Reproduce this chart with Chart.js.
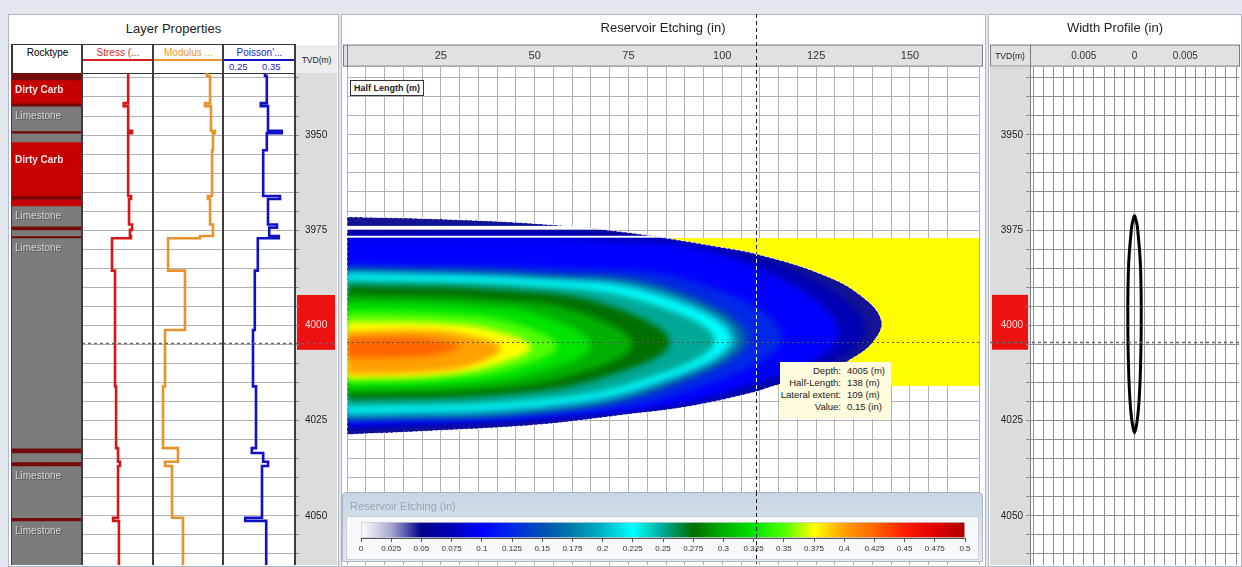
<!DOCTYPE html>
<html>
<head>
<meta charset="utf-8">
<title>Reservoir Etching</title>
<script src="https://cdn.jsdelivr.net/npm/chart.js@4.4.0/dist/chart.umd.min.js"></script>
<style>
  html, body { margin: 0; padding: 0; }
  body { width: 1242px; height: 567px; position: relative; overflow: hidden; background: #e3e7ed; font-family: "Liberation Sans", Arial, sans-serif; }
  .panel { position: absolute; background: #fff; border: 1px solid #aeb8c5; box-sizing: border-box; }
  .txt { position: absolute; white-space: nowrap; }
  .hcell { position: absolute; box-sizing: border-box; border: 1px solid #333; background: #fff; font-size: 10px; text-align: center; overflow: hidden; }
  .sep { position: absolute; width: 2px; background: #3c3c3c; }
  canvas { position: absolute; }
  .tip td { padding: 0; height: 12px; }
</style>
</head>
<body>

<!-- left panel -->
<div class="panel" style="left:8px;top:14px;width:331px;height:553px"></div>
<div class="txt" style="left:8px;top:21px;width:331px;text-align:center;font-size:13px;color:#222">Layer Properties</div>
<div class="hcell" style="left:12px;top:44px;width:71px;height:30px"><div style="margin-top:2px">Rocktype</div></div>
<div class="hcell" style="left:82px;top:44px;width:72px;height:30px;color:#d42a2a"><div style="margin-top:2px">Stress (...</div><div style="position:absolute;left:0;right:0;top:14px;height:2px;background:#d42020"></div></div>
<div class="hcell" style="left:153px;top:44px;width:71px;height:30px;color:#e8962e"><div style="margin-top:2px">Modulus ...</div><div style="position:absolute;left:0;right:0;top:14px;height:2px;background:#e8962e"></div></div>
<div class="hcell" style="left:223px;top:44px;width:73px;height:30px;color:#1c1cc8"><div style="margin-top:2px">Poisson'...</div><div style="position:absolute;left:0;right:0;top:14px;height:2px;background:#1414c0"></div></div>
<div class="txt" style="left:229px;top:61px;font-size:9.5px;color:#1c1cc8">0.25</div>
<div class="txt" style="left:262px;top:61px;font-size:9.5px;color:#1c1cc8">0.35</div>
<div class="txt" style="left:296px;top:45px;width:41px;height:28px;background:#ececec"></div>
<div class="txt" style="left:296px;top:55px;width:41px;text-align:center;font-size:8.5px;color:#222">TVD(m)</div>

<canvas id="rockChart" width="70" height="492" style="left:12px;top:73px"></canvas>
<canvas id="stressChart" width="71" height="492" style="left:82px;top:73px"></canvas>
<canvas id="modulusChart" width="70" height="492" style="left:153px;top:73px"></canvas>
<canvas id="poissonChart" width="114" height="492" style="left:223px;top:73px"></canvas>
<div class="sep" style="left:11px;top:44px;height:521px;width:1px"></div>
<div class="sep" style="left:81px;top:44px;height:521px"></div>
<div class="sep" style="left:152px;top:44px;height:521px"></div>
<div class="sep" style="left:222px;top:44px;height:521px"></div>
<div class="sep" style="left:294px;top:44px;height:521px"></div>

<!-- middle panel -->
<div class="panel" style="left:341px;top:14px;width:645px;height:553px"></div>
<canvas id="etchChart" width="640" height="551" style="left:343px;top:14px"></canvas>
<div class="txt" style="left:350px;top:80px;border:1px solid #333;background:#fff;font-size:9px;font-weight:bold;padding:2px 3px;color:#222">Half Length (m)</div>
<div class="txt" style="left:780px;top:362px;width:111px;height:57px;background:#fffbdc">
  <table class="tip" style="border-collapse:collapse;font-size:9.5px;color:#222;margin:2px 6px 0 auto">
    <tr><td style="text-align:right">Depth:</td><td style="padding-left:6px">4005 (m)</td></tr>
    <tr><td style="text-align:right">Half-Length:</td><td style="padding-left:6px">138 (m)</td></tr>
    <tr><td style="text-align:right">Lateral extent:</td><td style="padding-left:6px">109 (m)</td></tr>
    <tr><td style="text-align:right">Value:</td><td style="padding-left:6px">0.15 (in)</td></tr>
  </table>
</div>
<div class="txt" style="left:342px;top:492px;width:641px;height:70px;box-sizing:border-box;border:1px solid #a9b5c6;border-radius:4px 4px 0 0;background:linear-gradient(#c9d5e4,#e3e9f1)"></div>
<div class="txt" style="left:350px;top:500px;font-size:11px;color:#9aa4b2">Reservoir Etching (in)</div>
<div class="txt" style="left:346px;top:516px;width:633px;height:44px;box-sizing:border-box;border:1px solid #c6cfda;background:#f6f8fa"></div>
<canvas id="barChart" width="641" height="70" style="left:342px;top:492px"></canvas>

<!-- right panel -->
<div class="panel" style="left:988px;top:14px;width:254px;height:553px"></div>
<canvas id="widthChart" width="250" height="551" style="left:990px;top:14px"></canvas>
<div class="txt" style="left:990px;top:51px;width:40px;text-align:center;font-size:8.5px;color:#222">TVD(m)</div>

<script>
// ---------- values ----------
const DEPTH_BOTTOM = 4062.9;
const LOG_TOP = 3933.7;    // first depth under the log headers
const PLOT_TOP = 3932.1;   // first depth under the etching / width headers
const HL_MAX = 168.4;
const WIDTH_MAX = 0.0103;
const cursorDepth = 4004.5;
const cursorHalfLength = 109;
const perfTop = 3992.0, perfBottom = 4006.4;
const zoneTop = 3977.1, zoneBottom = 4015.9;

// rock column
const rockTops  = [3933.7, 3935.5, 3941.6, 3942.4, 3948.9, 3949.5, 3951.8, 3954.1, 3966.0, 3966.8, 3968.6,
                   3973.9, 3974.9, 3976.5, 3977.0, 4032.2, 4033.5, 4035.8, 4036.9, 4050.5, 4051.3];
const rockTypes = ['Shale', 'Dirty Carb', 'Shale', 'Limestone', 'Shale', 'Limestone', 'Dirty Carb', 'Dirty Carb', 'Shale', 'Dirty Carb', 'Limestone',
                   'Shale', 'Limestone', 'Shale', 'Limestone', 'Shale', 'Limestone', 'Shale', 'Limestone', 'Shale', 'Limestone'];
const rockColors = { 'Shale': '#730909', 'Dirty Carb': '#c60000', 'Limestone': '#7c7c7c' };

// logs (value from each top depth down to the next)
const stressTops   = [3933.7, 3941.6, 3942.4, 3948.9, 3949.5, 3966.0, 3966.8, 3973.5, 3974.9, 3976.5, 3977.1, 3985.6, 4016.0, 4032.2, 4035.8, 4036.9, 4050.5, 4051.3];
const stressValues = [76.0, 73.5, 76.0, 78.2, 76.0, 77.6, 76.5, 78.2, 77.0, 77.6, 66.9, 68.6, 69.2, 70.3, 71.4, 70.3, 67.5, 70.8];
const modulusTops   = [3933.7, 3934.5, 3941.6, 3942.4, 3948.9, 3949.5, 3954.0, 3966.0, 3966.8, 3973.5, 3976.5, 3977.1, 3985.6, 4001.2, 4016.0, 4032.2, 4035.8, 4036.9, 4050.5];
const modulusValues = [56.3, 58.9, 54.6, 59.7, 63.1, 61.4, 60.6, 57.1, 58.9, 61.4, 50.3, 22.9, 37.4, 20.3, 18.6, 31.4, 20.3, 26.3, 35.7];
const poissonTops   = [3933.7, 3934.5, 3941.6, 3942.4, 3948.9, 3949.5, 3954.0, 3966.0, 3966.8, 3973.5, 3974.3, 3976.5, 3977.1, 3985.6, 4001.2, 4016.0, 4032.2, 4033.5, 4035.8, 4036.9, 4050.5, 4051.3];
const poissonValues = [0.310, 0.313, 0.303, 0.315, 0.338, 0.313, 0.307, 0.335, 0.315, 0.330, 0.317, 0.333, 0.298, 0.293, 0.290, 0.295, 0.288, 0.307, 0.315, 0.305, 0.277, 0.312];

// etched envelope (half-length m, depth m)
const envHL    = [0, 25, 52, 73, 99, 110, 125.5, 136, 142.4, 140, 134, 125.5, 115, 108, 90.5, 73, 52, 25, 0];
const envDepth = [3971.5, 3972.1, 3973.4, 3975.4, 3979.4, 3981.5, 3986.2, 3991.5, 3998.6, 4004.6, 4009.1, 4013.5, 4015.6, 4017.7, 4021.4, 4023.6, 4026.0, 4027.6, 4028.7];

// etching contours, innermost first
const contourLevels = [0.425, 0.4, 0.375, 0.35, 0.325, 0.3, 0.275, 0.25, 0.225, 0.2, 0.175, 0.15, 0.125, 0.1, 0.075];
const contourHL = [
  [0, 15, 24, 30, 24, 15, 0],
  [0, 20.5, 32.8, 41, 32.8, 20.5, 0],
  [0, 24.5, 39.2, 49, 39.2, 24.5, 0],
  [0, 28, 44.8, 56, 44.8, 28, 0],
  [0, 32.5, 52, 65, 52, 32.5, 0],
  [0, 38, 60.8, 76, 60.8, 38, 0],
  [0, 43, 68.8, 86, 68.8, 43, 0],
  [0, 49, 78.4, 98, 78.4, 49, 0],
  [0, 51, 81.6, 102, 81.6, 51, 0],
  [0, 51.8, 82.8, 103.5, 82.8, 51.8, 0],
  [0, 52.5, 84, 105, 84, 52.5, 0],
  [0, 53.5, 85.6, 107, 85.6, 53.5, 0],
  [0, 58, 92.8, 116, 92.8, 58, 0],
  [0, 65.5, 104.8, 131, 104.8, 65.5, 0],
  [0, 69, 110.4, 138, 110.4, 69, 0]
];
const contourDepth = [
  [4003.3, 4003.1, 4003.9, 4005.5, 4007.5, 4008.3, 4008.5],
  [4001.7, 4001.3, 4002.8, 4006.0, 4010.5, 4012.3, 4013.0],
  [3999.0, 3999.4, 4001.3, 4005.8, 4010.5, 4013.1, 4014.0],
  [3996.5, 3997.2, 3999.5, 4005.5, 4011.2, 4014.0, 4015.0],
  [3994.0, 3994.9, 3997.5, 4005.3, 4012.0, 4015.4, 4016.5],
  [3992.0, 3993.2, 3996.2, 4005.0, 4012.8, 4016.7, 4018.0],
  [3989.5, 3990.8, 3994.5, 4004.5, 4013.5, 4018.0, 4019.5],
  [3988.0, 3989.5, 3993.5, 4004.0, 4014.5, 4019.8, 4021.5],
  [3986.6, 3988.2, 3992.0, 4003.6, 4015.0, 4020.9, 4022.8],
  [3986.2, 3987.8, 3991.3, 4003.6, 4015.4, 4021.8, 4023.8],
  [3985.6, 3987.2, 3990.6, 4003.5, 4015.8, 4022.3, 4024.3],
  [3985.0, 3986.5, 3990.0, 4003.5, 4016.2, 4022.8, 4024.8],
  [3984.0, 3985.0, 3988.5, 4003.0, 4016.8, 4023.3, 4025.5],
  [3977.0, 3977.6, 3983.0, 4002.0, 4016.3, 4023.4, 4026.5],
  [3974.9, 3975.7, 3982.0, 4001.0, 4016.5, 4023.2, 4027.5]
];

// colour scale of the legend bar
const cmapValues = [0, 0.025, 0.05, 0.075, 0.1, 0.125, 0.15, 0.175, 0.2, 0.225, 0.25, 0.275, 0.3, 0.325, 0.35, 0.375, 0.4, 0.425, 0.45, 0.475, 0.5];
const cmapColors = ['#ffffff', '#a8a8d0', '#00008c', '#0000b4', '#0000ff', '#0028e6', '#0050b4', '#007ca8', '#00b4c8', '#00ffff', '#00a896',
                    '#007000', '#00b000', '#00e400', '#50ff00', '#ffff00', '#ffa000', '#ff6400', '#ff1e00', '#e00000', '#b00000'];

// width profile
const wpDepth     = [3971.0, 3973.6, 3975.7, 3980.2, 3984.6, 3991.5, 3998.6, 4006.4, 4014.3, 4019.6, 4023.0, 4026.1, 4028.2];
const wpHalfWidth = [0, 0.00025, 0.00034, 0.00049, 0.00059, 0.00065, 0.00066, 0.00063, 0.00055, 0.00045, 0.00035, 0.0002, 0];

// ---------- helpers ----------
Chart.defaults.font.family = '"Liberation Sans", Arial, sans-serif';
Chart.defaults.color = '#222';

function hexRgb(h) { return [1, 3, 5].map(i => parseInt(h.substr(i, 2), 16)); }
function colorAt(v) {
  for (let i = 1; i < cmapValues.length; i++) {
    if (v <= cmapValues[i]) {
      const t = (v - cmapValues[i - 1]) / (cmapValues[i] - cmapValues[i - 1]);
      const a = hexRgb(cmapColors[i - 1]), b = hexRgb(cmapColors[i]);
      return 'rgb(' + a.map((c, k) => Math.round(c + (b[k] - c) * t)).join(',') + ')';
    }
  }
  return cmapColors[cmapColors.length - 1];
}

const baseOpts = {
  responsive: false, animation: false, events: [],
  layout: { padding: 0 },
  plugins: { legend: { display: false }, tooltip: { enabled: false }, title: { display: false } }
};

// ticks on round 5 m steps, but keep the axis ends where the picture has them
function depthAxis(top, extra) {
  return Object.assign({
    type: 'linear', reverse: true, min: top, max: DEPTH_BOTTOM,
    ticks: { display: false, stepSize: 5, includeBounds: false, autoSkip: false },
    afterBuildTicks: s => { s.min = top; s.max = DEPTH_BOTTOM; },
    grid: { color: '#b2b2b2', drawTicks: false },
    border: { display: false },
    afterFit: s => { s.width = 0; }
  }, extra || {});
}

function tvdTicks(extra) {
  return Object.assign({
    display: true, stepSize: 5, includeBounds: false, autoSkip: false,
    font: { size: 10 },
    color: c => (c.tick && c.tick.value >= perfTop && c.tick.value <= perfBottom) ? '#ffdede' : '#222',
    callback: v => (v % 25 === 0 ? String(v) : '')
  }, extra);
}

const cursorLine = {
  id: 'cursorLine',
  afterDraw(chart) {
    const { ctx, scales: { y } } = chart;
    const py = Math.round(y.getPixelForValue(cursorDepth)) + 0.5;
    ctx.save();
    ctx.setLineDash([3, 3]);
    ctx.strokeStyle = '#666';
    ctx.lineWidth = 1.5;
    ctx.beginPath(); ctx.moveTo(0, py); ctx.lineTo(chart.width, py); ctx.stroke();
    ctx.restore();
  }
};

const tvdColumn = {
  id: 'tvdColumn',
  beforeDraw(chart) {
    const { ctx, chartArea: a, scales: { y } } = chart;
    ctx.save();
    ctx.fillStyle = '#dcdcdc';
    ctx.fillRect(y.left, a.top, y.right - y.left, a.bottom - a.top);
    const t = y.getPixelForValue(perfTop), b = y.getPixelForValue(perfBottom);
    ctx.fillStyle = '#ee1111';
    ctx.fillRect(y.left + 2, t, y.right - y.left - 4, b - t);
    ctx.restore();
  }
};

const headerBand = {
  id: 'headerBand',
  beforeDraw(chart) {
    const { ctx, scales: { x }, chartArea: a } = chart;
    ctx.save();
    ctx.fillStyle = '#e1e1e1';
    ctx.fillRect(0, x.top, chart.width, x.bottom - x.top);
    ctx.strokeStyle = '#7a7a7a';
    ctx.lineWidth = 1;
    ctx.strokeRect(0.5, x.top + 0.5, chart.width - 1, x.bottom - x.top - 1);
    if (a.left > 1) {
      ctx.beginPath(); ctx.moveTo(a.left + 0.5, x.top); ctx.lineTo(a.left + 0.5, a.bottom); ctx.stroke();
    }
    ctx.restore();
  }
};

// ---------- rock column ----------
const rockLabels = {
  id: 'rockLabels',
  afterDatasetsDraw(chart) {
    const { ctx, scales: { y } } = chart;
    ctx.save();
    ctx.textBaseline = 'middle';
    rockTops.forEach((top, i) => {
      const base = i + 1 < rockTops.length ? rockTops[i + 1] : DEPTH_BOTTOM;
      if (rockTypes[i] === 'Shale' || base - top < 4) return;
      const py = y.getPixelForValue(top) + 10;
      if (rockTypes[i] === 'Dirty Carb') {
        ctx.font = 'bold 10px "Liberation Sans", Arial';
        ctx.fillStyle = '#ffe6e6';
      } else {
        ctx.font = '10px "Liberation Sans", Arial';
        ctx.fillStyle = '#555';
        ctx.fillText(rockTypes[i], 4, py + 1);
        ctx.fillStyle = '#d4d4d4';
      }
      ctx.fillText(rockTypes[i], 3, py);
    });
    ctx.restore();
  }
};

new Chart(document.getElementById('rockChart'), {
  type: 'bar',
  data: {
    labels: ['Rocktype'],
    datasets: rockTops.map((top, i) => ({
      label: rockTypes[i],
      data: [[top, i + 1 < rockTops.length ? rockTops[i + 1] : DEPTH_BOTTOM]],
      backgroundColor: rockColors[rockTypes[i]],
      borderWidth: 0, barPercentage: 1, categoryPercentage: 1, grouped: false
    }))
  },
  options: Object.assign({}, baseOpts, {
    scales: {
      x: { display: false },
      y: { display: false, type: 'linear', reverse: true, min: LOG_TOP, max: DEPTH_BOTTOM, bounds: 'data' }
    }
  }),
  plugins: [rockLabels]
});

// ---------- log tracks ----------
function logChart(id, tops, values, color, min, max, yAxis, extra) {
  const pts = tops.map((d, i) => ({ x: values[i], y: d }));
  pts.push({ x: values[values.length - 1], y: DEPTH_BOTTOM });
  return new Chart(document.getElementById(id), {
    type: 'line',
    data: { datasets: [{ data: pts, borderColor: color, borderWidth: 2.6, pointRadius: 0, stepped: 'after', fill: false }] },
    options: Object.assign({}, baseOpts, {
      scales: { x: { type: 'linear', min, max, display: false }, y: yAxis }
    }),
    plugins: (extra || []).concat([cursorLine])
  });
}

logChart('stressChart', stressTops, stressValues, '#d41818', 50, 90, depthAxis(LOG_TOP));
logChart('modulusChart', modulusTops, modulusValues, '#e8922a', 10, 70, depthAxis(LOG_TOP));
logChart('poissonChart', poissonTops, poissonValues, '#1010c4', 0.24, 0.36,
  depthAxis(LOG_TOP, {
    position: 'right',
    ticks: tvdTicks({ padding: 6 }),
    grid: { color: '#b2b2b2', drawTicks: true, tickLength: 4, tickColor: '#8a8a8a' },
    afterFit: s => { s.width = 42; s.paddingTop = 0; s.paddingBottom = 0; }
  }), [tvdColumn]);

// ---------- reservoir etching ----------
const etchDatasets = contourLevels.map((lv, i) => ({
  label: String(lv),
  data: contourHL[i].map((h, j) => ({ x: h, y: contourDepth[i][j] })),
  fill: 'shape', backgroundColor: colorAt(lv),
  borderColor: 'rgba(0,0,0,0)', borderWidth: 0, pointRadius: 0, tension: 0.4
}));
etchDatasets.push({
  label: 'envelope',
  data: envHL.map((h, j) => ({ x: h, y: envDepth[j] })),
  fill: 'shape', backgroundColor: colorAt(0.047),
  borderColor: 'rgba(0,0,0,0)', borderWidth: 0, pointRadius: 0, tension: 0.4
});
const ENV_INDEX = etchDatasets.length - 1;

function envelopePath(chart) {
  const line = chart.getDatasetMeta(ENV_INDEX).dataset;
  line.updateControlPoints(chart.chartArea, 'x');
  chart.ctx.beginPath();
  line.path(chart.ctx);
  chart.ctx.closePath();
}

const etchLayers = {
  id: 'etchLayers',
  beforeDatasetsDraw(chart) {
    const { ctx, scales: { x, y } } = chart;
    const x0 = x.getPixelForValue(0), x1 = x.getPixelForValue(HL_MAX);
    const yt = y.getPixelForValue(zoneTop), yb = y.getPixelForValue(zoneBottom);
    ctx.save();
    ctx.fillStyle = '#ffff00';
    ctx.fillRect(x0, yt, x1 - x0, yb - yt);
    ctx.restore();
    ctx.save();
    envelopePath(chart);
    ctx.clip();
  },
  afterDatasetDraw(chart, args) {
    if (args.index === ENV_INDEX) chart.ctx.filter = 'blur(3px)';
  },
  afterDatasetsDraw(chart) {
    const { ctx, scales: { x, y } } = chart;
    ctx.restore();
    const x0 = x.getPixelForValue(0), x1 = x.getPixelForValue(HL_MAX);
    // shale streaks are left un-etched
    ctx.save();
    envelopePath(chart);
    ctx.clip();
    ctx.fillStyle = '#ffffff';
    rockTops.forEach((top, i) => {
      if (rockTypes[i] !== 'Shale') return;
      const t = y.getPixelForValue(top), b = y.getPixelForValue(rockTops[i + 1] || DEPTH_BOTTOM);
      ctx.fillRect(x0, t, x1 - x0, b - t);
    });
    ctx.restore();
    ctx.save();
    envelopePath(chart);
    ctx.setLineDash([3, 2]);
    ctx.strokeStyle = 'rgba(255,255,255,0.85)';
    ctx.lineWidth = 1;
    ctx.stroke();
    ctx.restore();
  },
  afterDraw(chart) {
    const { ctx, chartArea: a, scales: { x, y } } = chart;
    const px = Math.round(x.getPixelForValue(cursorHalfLength)) + 0.5;
    const py = Math.round(y.getPixelForValue(cursorDepth)) + 0.5;
    ctx.save();
    ctx.lineWidth = 1;
    ctx.setLineDash([2, 3]);
    ctx.strokeStyle = '#555';
    ctx.beginPath(); ctx.moveTo(a.left, py); ctx.lineTo(a.right, py); ctx.stroke();
    ctx.setLineDash([4, 3]);
    ctx.strokeStyle = '#222';
    ctx.beginPath(); ctx.moveTo(px, 0); ctx.lineTo(px, chart.height); ctx.stroke();
    envelopePath(chart);
    ctx.clip();
    ctx.strokeStyle = '#ffffff';
    ctx.beginPath(); ctx.moveTo(px, 0); ctx.lineTo(px, chart.height); ctx.stroke();
    ctx.restore();
  }
};

const etchChart = new Chart(document.getElementById('etchChart'), {
  type: 'line',
  data: { datasets: etchDatasets },
  options: Object.assign({}, baseOpts, {
    plugins: Object.assign({}, baseOpts.plugins, {
      title: { display: true, text: 'Reservoir Etching (in)', font: { size: 13, weight: 'normal' }, color: '#222', padding: { top: 7, bottom: 8 } }
    }),
    scales: {
      x: {
        type: 'linear', position: 'top', min: 0, max: HL_MAX, bounds: 'data',
        ticks: { stepSize: 5, autoSkip: false, maxRotation: 0, padding: 4, font: { size: 11 }, color: '#333',
                 callback: v => (v > 0 && v % 25 === 0 ? String(v) : '') },
        grid: { color: '#b2b2b2', drawTicks: false },
        border: { display: false },
        afterFit: s => { s.height = 22; }
      },
      y: depthAxis(PLOT_TOP)
    }
  }),
  plugins: [headerBand, etchLayers]
});

// ---------- colour legend ----------
const barCursor = {
  id: 'barCursor',
  afterDraw(chart) {
    const gx = etchChart.canvas.offsetLeft + etchChart.scales.x.getPixelForValue(cursorHalfLength);
    const px = Math.round(gx - chart.canvas.offsetLeft) + 0.5;
    const ctx = chart.ctx;
    ctx.save();
    ctx.setLineDash([4, 3]);
    ctx.strokeStyle = '#222';
    ctx.lineWidth = 1;
    ctx.beginPath(); ctx.moveTo(px, 0); ctx.lineTo(px, chart.height); ctx.stroke();
    ctx.restore();
  }
};

new Chart(document.getElementById('barChart'), {
  type: 'bar',
  data: {
    labels: ['Reservoir Etching (in)'],
    datasets: [{
      data: [[0, 0.5]],
      backgroundColor: c => {
        const chart = c.chart, x = chart.scales.x;
        if (!chart.chartArea || !x) return '#888';
        const g = chart.ctx.createLinearGradient(x.getPixelForValue(0), 0, x.getPixelForValue(0.5), 0);
        cmapValues.forEach((v, i) => g.addColorStop(v / 0.5, cmapColors[i]));
        return g;
      },
      borderColor: '#c9ced6', borderWidth: 1, borderSkipped: false,
      barPercentage: 1, categoryPercentage: 1
    }]
  },
  options: Object.assign({}, baseOpts, {
    indexAxis: 'y',
    layout: { padding: { left: 19, right: 18, top: 30, bottom: 0 } },
    scales: {
      x: {
        type: 'linear', min: 0, max: 0.5, bounds: 'data',
        ticks: { stepSize: 0.025, autoSkip: false, maxRotation: 0, padding: 2, font: { size: 8 }, color: '#333',
                 callback: v => String(+v.toFixed(3)) },
        grid: { drawOnChartArea: false, drawTicks: true, tickLength: 4, color: '#555' },
        border: { display: true, color: '#555' },
        afterFit: s => { s.height = 24; }
      },
      y: { display: false }
    }
  }),
  plugins: [barCursor]
});

// ---------- width profile ----------
const wpRight = wpDepth.map((d, i) => ({ x: wpHalfWidth[i], y: d }));
const wpLeft = wpDepth.map((d, i) => ({ x: -wpHalfWidth[i], y: d })).reverse();

new Chart(document.getElementById('widthChart'), {
  type: 'line',
  data: {
    datasets: [{
      data: wpRight.concat(wpLeft.slice(1)),
      borderColor: '#000', borderWidth: 3, pointRadius: 0, tension: 0.35, fill: false
    }]
  },
  options: Object.assign({}, baseOpts, {
    plugins: Object.assign({}, baseOpts.plugins, {
      title: { display: true, text: 'Width Profile (in)', font: { size: 13, weight: 'normal' }, color: '#222', padding: { top: 7, bottom: 8 } }
    }),
    scales: {
      x: {
        type: 'linear', position: 'top', min: -WIDTH_MAX, max: WIDTH_MAX,
        ticks: { stepSize: 0.001, includeBounds: false, autoSkip: false, maxRotation: 0, padding: 4, font: { size: 10 }, color: '#333',
                 callback: v => { const k = Math.round(v * 1000); return k === 0 ? '0' : (Math.abs(k) === 5 ? '0.005' : ''); } },
        afterBuildTicks: s => { s.min = -WIDTH_MAX; s.max = WIDTH_MAX; },
        grid: { color: '#8f8f8f', drawTicks: false },
        border: { display: false },
        afterFit: s => { s.height = 22; }
      },
      y: depthAxis(PLOT_TOP, {
        position: 'left',
        ticks: tvdTicks({ padding: 3, crossAlign: 'center' }),
        grid: { color: '#8f8f8f', drawTicks: true, tickLength: 4, tickColor: '#8a8a8a' },
        afterFit: s => { s.width = 40; s.paddingTop = 0; s.paddingBottom = 0; }
      })
    }
  }),
  plugins: [headerBand, tvdColumn, cursorLine]
});
</script>
</body>
</html>
